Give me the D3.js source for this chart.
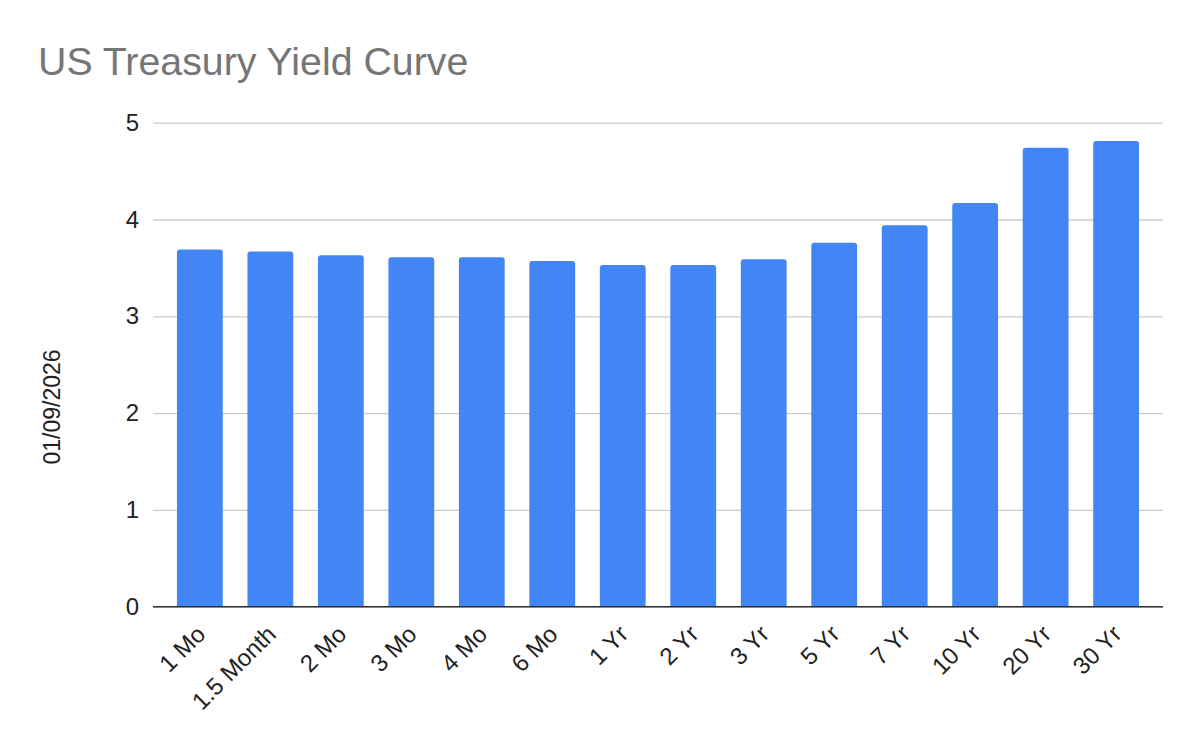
<!DOCTYPE html>
<html>
<head>
<meta charset="utf-8">
<script src="https://cdn.jsdelivr.net/npm/d3@7"></script>
<style>
  html, body { margin: 0; padding: 0; background: #fff; }
  svg { display: block; font-family: Arial, "Liberation Sans", sans-serif; }
</style>
</head>
<body>
<svg id="chart" width="1200" height="742"></svg>
<script>
const titleText = "US Treasury Yield Curve";
const yAxisTitle = "01/09/2026";
const categories = ["1 Mo", "1.5 Month", "2 Mo", "3 Mo", "4 Mo", "6 Mo", "1 Yr", "2 Yr", "3 Yr", "5 Yr", "7 Yr", "10 Yr", "20 Yr", "30 Yr"];
const yields = [3.69, 3.67, 3.63, 3.61, 3.61, 3.57, 3.53, 3.53, 3.59, 3.76, 3.94, 4.17, 4.74, 4.81];
const yTicks = [0, 1, 2, 3, 4, 5];

const svg = d3.select("#chart");
const margin = { left: 153, right: 37, top: 122.7, bottom: 135.3 };
const W = 1200, H = 742;
const FONT = "Arial, 'Liberation Sans', sans-serif";

const x = d3.scaleBand()
  .domain(categories)
  .range([margin.left, W - margin.right])
  .paddingInner(0.35)
  .paddingOuter(0.34);

const y = d3.scaleLinear()
  .domain([0, 5])
  .range([H - margin.bottom, margin.top]);

// title
svg.append("text")
  .attr("x", 38)
  .attr("y", 75)
  .attr("fill", "#757575")
  .attr("font-size", 39.3)
  .text(titleText);

// gridlines + y tick labels
const yAxis = d3.axisLeft(y).tickValues(yTicks).tickFormat(d3.format("d"))
  .tickSize(-(W - margin.left - margin.right)).tickPadding(14);
const gy = svg.append("g").attr("transform", `translate(${margin.left},0)`).call(yAxis);
gy.select(".domain").remove();
gy.selectAll(".tick line").attr("stroke", "#cccccc").attr("stroke-width", 1.3);
gy.selectAll(".tick text").attr("fill", "#222").attr("font-size", 24).attr("font-family", FONT);

// bars with rounded tops
const r = 3;
svg.append("g").selectAll("path")
  .data(categories.map((c, i) => ({ c, v: yields[i] })))
  .join("path")
  .attr("fill", "#4285f4")
  .attr("d", d => {
    const x0 = x(d.c), w = x.bandwidth(), y0 = y(d.v), yb = y(0);
    return `M${x0},${yb}V${y0 + r}Q${x0},${y0} ${x0 + r},${y0}H${x0 + w - r}Q${x0 + w},${y0} ${x0 + w},${y0 + r}V${yb}Z`;
  });

// baseline
svg.append("line")
  .attr("x1", margin.left).attr("x2", W - margin.right)
  .attr("y1", y(0)).attr("y2", y(0))
  .attr("stroke", "#333").attr("stroke-width", 1.5);

// x labels
const xAxis = d3.axisBottom(x).tickSize(0).tickPadding(0);
const gx = svg.append("g").attr("transform", `translate(0,${y(0)})`).call(xAxis);
gx.select(".domain").remove();
gx.selectAll(".tick text")
  .attr("fill", "#222")
  .attr("font-size", 24)
  .attr("font-family", FONT)
  .attr("text-anchor", "end")
  .attr("dy", null)
  .attr("transform", "translate(7,29) rotate(-45)");

// y title
svg.append("text")
  .attr("transform", "translate(60,407) rotate(-90)")
  .attr("text-anchor", "middle")
  .attr("fill", "#222")
  .attr("font-size", 23)
  .attr("font-family", FONT)
  .text(yAxisTitle);
</script>
</body>
</html>
